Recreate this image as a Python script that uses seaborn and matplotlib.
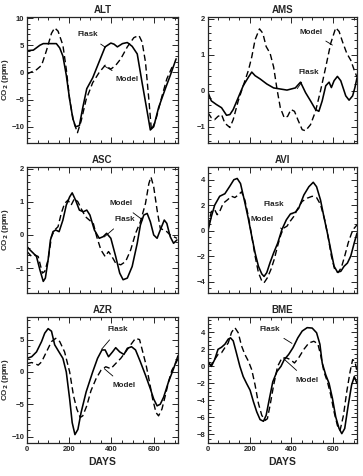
import numpy as np
import pandas as pd
import matplotlib
matplotlib.use("Agg")
import matplotlib.pyplot as plt
from matplotlib.ticker import MultipleLocator
import seaborn as sns

# ---------------- data ----------------
stations = ["ALT", "AMS", "ASC", "AVI", "AZR", "BME"]

alt_flask_days = [0, 30, 61, 77, 139, 155, 170, 186, 202, 217, 230, 248, 264, 283, 311, 342, 370, 397, 412, 428, 452, 475, 498, 522, 545, 569, 584, 600, 623, 655, 678, 706]
alt_flask_vals = [4.0, 4.1, 5.0, 5.3, 5.3, 4.5, 3.0, -0.5, -5.0, -8.5, -10.0, -9.8, -6.5, -3.0, -1.0, 2.0, 4.7, 5.4, 5.2, 4.7, 5.3, 5.5, 4.8, 3.4, -1.9, -7.2, -10.6, -10.0, -6.5, -3.0, -0.6, 2.5]
alt_model_days = [0, 22, 45, 69, 92, 116, 131, 147, 170, 186, 202, 220, 239, 256, 280, 311, 342, 370, 397, 420, 444, 475, 506, 530, 545, 561, 577, 589, 608, 639, 662, 686, 706]
alt_model_vals = [-0.3, 0.1, 0.5, 1.3, 4.0, 7.2, 8.2, 7.6, 5.0, 0.6, -5.0, -9.0, -11.1, -9.0, -5.0, -1.9, 0.0, 1.3, 0.6, 1.3, 2.5, 4.7, 6.4, 6.8, 5.6, 1.9, -5.0, -10.6, -9.0, -4.4, -1.2, 0.9, 0.8]

ams_flask_days = [0, 16, 40, 65, 89, 105, 121, 145, 169, 194, 210, 226, 250, 282, 315, 347, 379, 419, 444, 468, 492, 516, 532, 548, 565, 581, 592, 605, 621, 637, 661, 677, 694, 705, 715]
ams_flask_vals = [-0.05, -0.28, -0.38, -0.47, -0.68, -0.66, -0.52, -0.19, 0.14, 0.38, 0.52, 0.42, 0.33, 0.19, 0.08, 0.05, 0.02, 0.08, 0.24, -0.05, -0.28, -0.52, -0.57, -0.28, 0.14, 0.24, 0.09, 0.28, 0.40, 0.28, -0.14, -0.26, -0.14, 0.09, 0.36]
ams_model_days = [0, 16, 32, 48, 65, 81, 105, 121, 145, 169, 194, 210, 226, 247, 263, 279, 298, 315, 331, 347, 366, 382, 398, 415, 431, 452, 468, 492, 516, 540, 565, 589, 613, 629, 645, 666, 685, 702, 715]
ams_model_vals = [-0.61, -0.75, -0.80, -0.71, -0.66, -0.90, -1.02, -0.80, -0.28, 0.14, 0.57, 0.94, 1.42, 1.72, 1.60, 1.23, 1.04, 0.66, 0.05, -0.47, -0.75, -0.71, -0.52, -0.57, -0.80, -1.08, -1.11, -0.94, -0.57, 0.0, 0.66, 1.32, 1.75, 1.65, 1.37, 1.04, 0.85, 0.57, 0.38]

asc_flask_days = [0, 14, 30, 45, 61, 77, 87, 100, 111, 123, 136, 152, 170, 186, 202, 214, 230, 248, 267, 283, 298, 319, 342, 361, 377, 397, 420, 439, 455, 475, 498, 522, 537, 553, 569, 584, 600, 616, 631, 650, 662, 678, 694, 710]
asc_flask_vals = [-0.35, -0.45, -0.55, -0.65, -1.05, -1.40, -1.30, -0.75, -0.15, 0.10, 0.15, 0.10, 0.45, 0.90, 1.15, 1.27, 1.05, 0.75, 0.70, 0.75, 0.60, 0.15, -0.10, -0.05, 0.05, -0.10, -0.65, -1.15, -1.35, -1.30, -0.95, -0.25, 0.30, 0.60, 0.65, 0.40, 0.0, -0.10, 0.15, 0.45, 0.35, -0.05, -0.25, -0.15]
asc_model_days = [0, 22, 37, 53, 73, 84, 100, 116, 131, 147, 162, 178, 194, 209, 225, 241, 256, 277, 295, 314, 330, 350, 370, 386, 402, 420, 444, 467, 491, 514, 537, 561, 577, 587, 600, 616, 631, 647, 662, 678, 694, 710]
asc_model_vals = [-0.50, -0.65, -0.60, -0.65, -1.15, -1.10, -0.75, -0.05, 0.15, 0.25, 0.65, 0.95, 1.05, 0.90, 1.10, 1.00, 0.80, 0.55, 0.45, 0.35, -0.05, -0.45, -0.65, -0.50, -0.65, -0.85, -0.90, -0.80, -0.45, 0.05, 0.40, 0.95, 1.55, 1.75, 1.45, 0.75, 0.20, 0.15, 0.10, 0.0, -0.05, -0.10]

avi_flask_days = [0, 16, 32, 56, 81, 105, 124, 140, 156, 177, 194, 210, 226, 242, 258, 269, 282, 298, 315, 334, 355, 376, 395, 419, 435, 460, 484, 505, 521, 540, 556, 573, 589, 605, 621, 637, 653, 669, 685, 702, 715]
avi_flask_vals = [0.0, 1.1, 2.0, 2.7, 2.9, 3.5, 4.0, 4.1, 3.7, 2.2, 0.9, -0.45, -1.75, -2.8, -3.4, -3.6, -3.3, -2.5, -1.75, -1.0, 0.1, 0.85, 1.3, 1.45, 1.75, 2.8, 3.45, 3.8, 3.45, 2.4, 1.1, -0.2, -1.5, -2.8, -3.25, -3.2, -2.8, -2.55, -2.0, -0.95, -0.2]
avi_model_days = [0, 16, 32, 44, 56, 73, 92, 113, 129, 145, 161, 177, 194, 210, 226, 242, 258, 269, 285, 302, 318, 334, 350, 363, 379, 395, 411, 431, 452, 476, 500, 521, 540, 560, 576, 592, 608, 624, 640, 656, 673, 689, 702, 715]
avi_model_vals = [0.35, 1.5, 1.65, 1.25, 1.5, 2.15, 2.4, 2.7, 2.6, 2.8, 3.05, 2.4, 1.1, -0.45, -2.0, -3.3, -3.95, -4.1, -3.7, -3.05, -2.25, -1.2, -0.3, 0.2, 0.35, 0.75, 1.1, 1.75, 2.3, 2.55, 2.7, 2.6, 2.05, 0.85, -0.45, -2.0, -3.05, -3.3, -2.9, -2.0, -0.95, -0.2, 0.2, 0.45]

azr_flask_days = [0, 22, 45, 69, 84, 100, 116, 131, 155, 170, 186, 202, 214, 227, 241, 256, 280, 311, 334, 355, 370, 386, 405, 420, 439, 459, 475, 495, 514, 537, 561, 584, 600, 616, 631, 647, 670, 694, 715]
azr_flask_vals = [2.1, 2.35, 3.1, 4.7, 6.0, 6.7, 6.3, 4.2, 2.9, 2.1, 0.0, -4.2, -7.85, -9.7, -8.9, -6.3, -3.1, 0.0, 2.1, 3.4, 3.4, 2.35, 3.1, 3.75, 3.1, 2.7, 3.65, 3.9, 3.4, 1.55, -0.5, -2.6, -4.2, -5.25, -5.0, -3.9, -1.55, 0.5, 2.5]
azr_model_days = [0, 22, 37, 53, 69, 92, 116, 136, 155, 178, 202, 220, 236, 252, 264, 283, 303, 327, 350, 373, 397, 420, 444, 467, 491, 514, 533, 548, 564, 580, 595, 611, 623, 639, 655, 670, 686, 715]
azr_model_vals = [1.3, 1.45, 1.3, 1.05, 1.55, 3.1, 4.7, 5.2, 4.7, 3.1, 0.0, -3.65, -5.75, -7.05, -6.8, -5.25, -2.9, -1.05, 0.25, 0.8, 0.5, 1.3, 2.1, 3.1, 4.2, 5.2, 5.0, 3.1, 1.05, -1.55, -4.2, -6.3, -6.8, -5.75, -3.65, -1.55, 0.25, 2.0]

bme_flask_days = [0, 16, 32, 48, 65, 81, 97, 108, 121, 134, 153, 169, 185, 202, 218, 234, 250, 266, 279, 295, 311, 331, 350, 366, 387, 408, 431, 452, 476, 500, 521, 537, 548, 565, 581, 597, 613, 629, 642, 656, 673, 689, 702, 715]
bme_flask_vals = [0.6, 0.0, 0.8, 2.0, 2.25, 2.6, 3.2, 3.35, 3.0, 1.8, 0.0, -1.2, -2.0, -2.8, -4.15, -5.35, -6.25, -6.45, -5.75, -3.75, -1.8, -0.6, 0.0, 0.8, 1.4, 2.2, 3.35, 4.15, 4.55, 4.5, 3.95, 2.6, 0.4, -1.0, -2.0, -3.75, -5.95, -7.3, -7.9, -7.3, -4.55, -2.2, -1.2, -2.0]
bme_model_days = [0, 16, 32, 48, 65, 81, 97, 113, 129, 145, 161, 177, 194, 210, 226, 242, 258, 274, 285, 298, 315, 334, 355, 376, 395, 415, 435, 460, 484, 508, 527, 540, 556, 573, 589, 605, 621, 634, 650, 666, 682, 694, 705, 715]
bme_model_vals = [0.2, 0.2, 0.8, 1.4, 1.6, 2.2, 2.75, 4.0, 4.55, 3.95, 2.4, 1.4, 0.6, -0.4, -2.2, -4.35, -5.75, -6.35, -6.15, -4.55, -2.2, 0.0, 1.0, 1.0, 0.8, 0.4, 1.0, 2.0, 2.75, 2.95, 2.65, 1.4, -0.6, -1.8, -3.35, -5.35, -6.95, -7.5, -5.75, -2.95, -0.6, 0.8, 0.6, -0.6]

series = {
    "ALT": (alt_flask_days, alt_flask_vals, alt_model_days, alt_model_vals),
    "AMS": (ams_flask_days, ams_flask_vals, ams_model_days, ams_model_vals),
    "ASC": (asc_flask_days, asc_flask_vals, asc_model_days, asc_model_vals),
    "AVI": (avi_flask_days, avi_flask_vals, avi_model_days, avi_model_vals),
    "AZR": (azr_flask_days, azr_flask_vals, azr_model_days, azr_model_vals),
    "BME": (bme_flask_days, bme_flask_vals, bme_model_days, bme_model_vals),
}

# ---------------- layout / style ----------------
ylims = {"ALT": (-13, 10.2), "AMS": (-1.45, 2.05), "ASC": (-1.75, 2.05),
         "AVI": (-4.9, 5.0), "AZR": (-11, 8.5), "BME": (-9, 5.8)}
ymajor = {"ALT": 5, "AMS": 1, "ASC": 1, "AVI": 2, "AZR": 5, "BME": 2}
yminor = {"ALT": 1, "AMS": 0.2, "ASC": 0.2, "AVI": 0.5, "AZR": 1, "BME": 0.5}
# (text x, text y, arrow x, arrow y) for the Flask and Model labels
labels_pos = {
    "ALT": ((286, 6.9, 372, 4.6), (475, -1.3, 365, 1.2)),
    "AMS": ((484, 0.52, 428, 0.06), (495, 1.63, 597, 1.27)),
    "ASC": ((462, 0.47, 366, -0.06), (444, 0.95, 548, 0.45)),
    "AVI": ((315, 2.03, 405, 1.32), (258, 0.86, 355, 0.15)),
    "AZR": ((431, 6.5, 353, 3.5), (459, -2.1, 366, 0.5)),
    "BME": ((295, 4.35, 403, 2.7), (476, -1.6, 363, 0.9)),
}

sns.set_style("ticks")
plt.rcParams["font.family"] = ["Liberation Sans", "DejaVu Sans"]
plt.rcParams["font.weight"] = "bold"

fig = plt.figure(figsize=(3.63, 4.76), dpi=100)
colx = [27 / 363, 208 / 363]
colw = [151 / 363, 149 / 363]
rowy = [1 - 143 / 476, 1 - 293 / 476, 1 - 443 / 476]
rowh = 126 / 476

for i, st in enumerate(stations):
    r, c = divmod(i, 2)
    ax = fig.add_axes([colx[c], rowy[r], colw[c], rowh])
    fd, fv, md, mv = series[st]
    df = pd.concat([
        pd.DataFrame({"day": fd, "co2": fv, "kind": "Flask"}),
        pd.DataFrame({"day": md, "co2": mv, "kind": "Model"}),
    ])
    sns.lineplot(data=df[df.kind == "Flask"], x="day", y="co2", ax=ax,
                 color="black", lw=1.15, estimator=None, sort=False)
    sns.lineplot(data=df[df.kind == "Model"], x="day", y="co2", ax=ax,
                 color="black", lw=1.0, estimator=None, sort=False,
                 dashes=False, linestyle=(0, (4.5, 2.5)))
    ax.set_xlim(0, 715)
    ax.set_ylim(*ylims[st])
    ax.xaxis.set_major_locator(MultipleLocator(200))
    ax.xaxis.set_minor_locator(MultipleLocator(50))
    ax.yaxis.set_major_locator(MultipleLocator(ymajor[st]))
    ax.yaxis.set_minor_locator(MultipleLocator(yminor[st]))
    ax.tick_params(which="both", direction="in", top=True, right=True,
                   width=0.7, labelsize=5.5, pad=2)
    ax.tick_params(which="major", length=4)
    ax.tick_params(which="minor", length=2.5)
    for sp in ax.spines.values():
        sp.set_linewidth(0.9)
    ax.set_title(st, fontsize=7, fontweight="bold", pad=3)
    if r < 2:
        ax.set_xticklabels([])
        ax.set_xlabel("")
    else:
        ax.set_xlabel("DAYS", fontsize=7.5, fontweight="bold", labelpad=3)
    if c == 0:
        ax.set_ylabel("CO$_2$ (ppm)", fontsize=5.8, fontweight="bold")
        ax.yaxis.set_label_coords(-0.105, 0.5)
    else:
        ax.set_ylabel("")
    for name, (tx, ty, axx, axy) in zip(["Flask", "Model"], labels_pos[st]):
        ax.annotate(name, xy=(axx, axy), xytext=(tx, ty), fontsize=5.8,
                    fontweight="bold", ha="center", va="center",
                    arrowprops=dict(arrowstyle="-", lw=0.6, color="black",
                                    shrinkA=3, shrinkB=0))

fig.savefig("out.png", dpi=100)
